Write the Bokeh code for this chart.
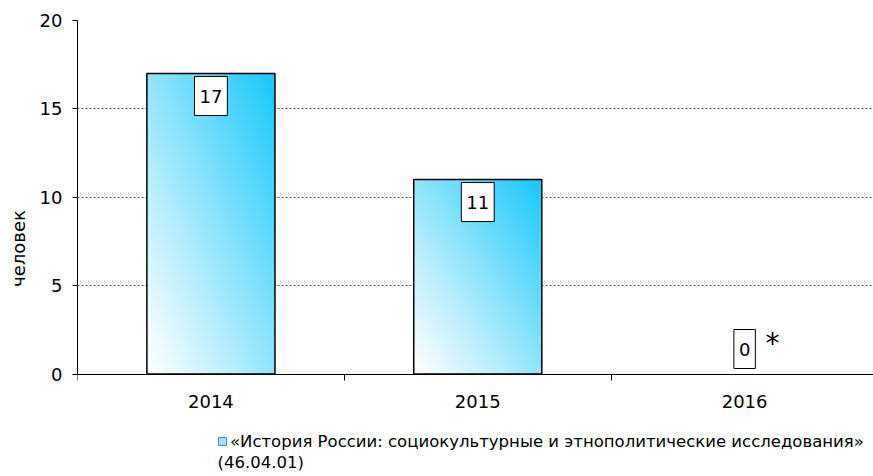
import numpy as np
from bokeh.plotting import figure
from bokeh.models import (FixedTicker, Label, Legend, LegendItem, Range1d)
from bokeh.embed import file_html
from bokeh.resources import INLINE

# ---- data ----
years = ["2014", "2015", "2016"]
values = [17, 11, 0]
y_ticks = [0, 5, 10, 15, 20]
y_label = "человек"
legend_line1 = "«История России: социокультурные и этнополитические исследования»"
legend_line2 = "(46.04.01)"
note = "*"

FONT = "DejaVu Sans"
FS = "18px"
FS_LEG = "16.5px"
xs = list(range(len(years)))
bar_w = 0.48

# frame: top at 20px, value 0 at 373.5px, frame continues to canvas bottom
px_per_unit = (373.5 - 20) / 20.0
y_start = -(476 - 373.5) / px_per_unit

p = figure(width=873, height=476, output_backend="svg", toolbar_location=None,
           x_range=Range1d(-0.5, 2.483), y_range=Range1d(y_start, 20),
           min_border_left=77, min_border_right=0, min_border_top=20,
           min_border_bottom=0)
p.outline_line_color = None
p.background_fill_color = "white"
p.border_fill_color = "white"
p.xgrid.visible = False
p.ygrid.ticker = FixedTicker(ticks=y_ticks[1:])
p.ygrid.grid_line_color = "#555555"
p.ygrid.grid_line_dash = "2 2"
p.ygrid.grid_line_width = 1


def gradient(nx=140, ny=320):
    u = np.linspace(0, 1, nx)[None, :]
    v = np.linspace(0, 1, ny)[:, None]
    t = (u + v) / 2.0
    t = t ** 1.1
    c0 = np.array([255, 255, 255], dtype=float)
    c1 = np.array([22, 200, 250], dtype=float)
    rgb = c0[None, None, :] * (1 - t[..., None]) + c1[None, None, :] * t[..., None]
    img = np.empty((ny, nx), dtype=np.uint32)
    view = img.view(dtype=np.uint8).reshape((ny, nx, 4))
    view[..., 0] = rgb[..., 0].astype(np.uint8)
    view[..., 1] = rgb[..., 1].astype(np.uint8)
    view[..., 2] = rgb[..., 2].astype(np.uint8)
    view[..., 3] = 255
    return img


bx = [x for x, v in zip(xs, values) if v > 0]
bv = [v for v in values if v > 0]
p.image_rgba(image=[gradient() for _ in bv], x=[x - bar_w / 2 for x in bx],
             y=[0] * len(bv), dw=[bar_w] * len(bv), dh=bv)
p.vbar(x=bx, top=bv, width=bar_w, fill_color=None, line_color="black",
       line_width=1.5)

# value labels
for x, v in zip(xs, values):
    p.add_layout(Label(x=x, y=v, text=str(v), y_offset=(-22.5 if v > 0 else 25),
                       text_align="center", text_baseline="middle",
                       text_font=FONT, text_font_size=FS, text_color="black",
                       background_fill_color="white", border_line_color="black",
                       border_line_width=1,
                       padding=dict(left=5, right=5, top=13, bottom=13)))

p.add_layout(Label(x=xs[2], y=values[2], text=note, x_offset=28, y_offset=31,
                   text_align="center", text_baseline="middle",
                   text_font=FONT, text_font_size="28px", text_color="black"))

# axes
ya = p.yaxis[0]
ya.ticker = FixedTicker(ticks=y_ticks)
ya.bounds = (0, 20)
ya.major_tick_in = 0
ya.major_tick_out = 5
ya.minor_tick_in = 0
ya.minor_tick_out = 0
ya.axis_line_color = "black"
ya.major_tick_line_color = "black"
ya.major_label_text_font = FONT
ya.major_label_text_font_size = FS
ya.major_label_text_color = "black"
ya.major_label_standoff = 10
ya.axis_label = y_label
ya.axis_label_text_font = FONT
ya.axis_label_text_font_size = FS
ya.axis_label_text_font_style = "normal"
ya.axis_label_text_color = "black"
ya.axis_label_standoff = 8

xa = p.xaxis[0]
xa.fixed_location = 0
xa.ticker = FixedTicker(ticks=xs, minor_ticks=[x - 0.5 for x in xs])
xa.major_tick_in = 0
xa.major_tick_out = 0
xa.minor_tick_in = 0
xa.minor_tick_out = 6
xa.minor_tick_line_color = "black"
xa.axis_line_color = "black"
xa.major_label_overrides = {x: y for x, y in zip(xs, years)}
xa.major_label_text_font = FONT
xa.major_label_text_font_size = FS
xa.major_label_text_color = "black"
xa.major_label_standoff = 15

# legend (inside the extended frame, below the axis)
dummy = p.quad(left=[10], right=[11], bottom=[30], top=[31],
               fill_color="#A6DDF7", line_color="#3A8FC8", line_width=1)
legend = Legend(items=[LegendItem(label=legend_line1, renderers=[dummy])],
                location=(140, 25), glyph_width=10, glyph_height=10,
                label_standoff=3, padding=0, margin=0, spacing=0,
                border_line_color=None, background_fill_alpha=0,
                label_text_font=FONT, label_text_font_size=FS_LEG,
                label_text_color="black", label_height=20)
p.add_layout(legend)

p.add_layout(Label(x=140, y=14, x_units="screen", y_units="screen",
                   text=legend_line2, text_align="left", text_baseline="middle",
                   text_font=FONT, text_font_size=FS_LEG, text_color="black"))

open("out.html", "w").write(file_html(p, INLINE))
